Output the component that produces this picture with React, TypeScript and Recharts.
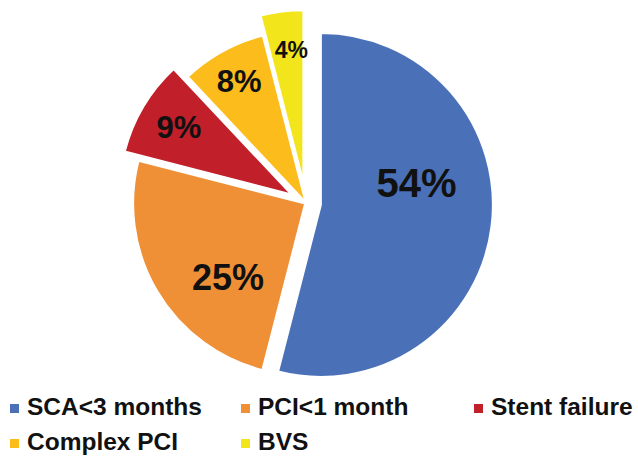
import { PieChart, Pie, Sector, Legend } from 'recharts'

const categories = ['SCA<3 months', 'PCI<1 month', 'Stent failure', 'Complex PCI', 'BVS']
const shares = [54, 25, 9, 8, 4]
const colors = ['#4A71B8', '#EF9036', '#C11F2A', '#FBBC1C', '#F3E51C']

// how far each slice is pulled away from the centre (px)
const explode = [15, 1, 17, 1, 21]
// where each % label sits: fraction of radius, angular nudge (deg), font size
const labelSpots = [
  { r: 0.57, turn: 20, size: 40 },
  { r: 0.62, turn: 13, size: 36 },
  { r: 0.76, turn: 0, size: 31 },
  { r: 0.8, turn: 0, size: 31 },
  { r: 0.77, turn: -2, size: 23 },
]

const data = categories.map((name, i) => ({ name, value: shares[i] }))

const RAD = Math.PI / 180

const renderSlice = (p: any) => {
  const i = p.index
  const x0 = p.cx + explode[i] * Math.cos(-p.midAngle * RAD)
  const y0 = p.cy + explode[i] * Math.sin(-p.midAngle * RAD)
  const spot = labelSpots[i]
  const a = (p.midAngle + spot.turn) * RAD
  const lx = x0 + p.outerRadius * spot.r * Math.cos(-a)
  const ly = y0 + p.outerRadius * spot.r * Math.sin(-a)
  return (
    <g key={`slice-${i}`}>
      <Sector
        cx={x0}
        cy={y0}
        innerRadius={0}
        outerRadius={p.outerRadius}
        startAngle={p.startAngle}
        endAngle={p.endAngle}
        fill={colors[i]}
        stroke="#ffffff"
        strokeWidth={2}
      />
      <text
        x={lx}
        y={ly}
        textAnchor="middle"
        dominantBaseline="central"
        fontSize={spot.size}
        fontWeight="bold"
        fontFamily="Liberation Sans, Arial, sans-serif"
        fill="#111111"
      >
        {shares[i]}%
      </text>
    </g>
  )
}

const LegendBox = () => (
  <div
    style={{
      display: 'grid',
      gridTemplateColumns: '231px 233px 1fr',
      paddingLeft: 10,
      fontFamily: 'Liberation Sans, Arial, sans-serif',
      fontWeight: 'bold',
      fontSize: 24.5,
      color: '#111111',
    }}
  >
    {categories.map((c, i) => (
      <div key={c} style={{ display: 'flex', alignItems: 'center', height: 35, whiteSpace: 'nowrap' }}>
        <span
          style={{
            width: 9,
            height: 9,
            background: colors[i],
            marginRight: 8,
            marginTop: 3,
            display: 'inline-block',
            flex: 'none',
          }}
        />
        {c}
      </div>
    ))}
  </div>
)

export default function App() {
  return (
    <>
      <style>{'body{margin:0;background:#fff}'}</style>
      <PieChart width={638} height={463} margin={{ top: 0, right: 0, bottom: 0, left: 0 }}>
        <Pie
          data={data}
          dataKey="value"
          nameKey="name"
          cx={306}
          cy={203}
          innerRadius={0}
          outerRadius={172}
          startAngle={90}
          endAngle={-270}
          fill="none"
          stroke="none"
          label={renderSlice}
          labelLine={false}
          isAnimationActive={false}
        />
        <Legend
          verticalAlign="bottom"
          content={() => <LegendBox />}
          wrapperStyle={{ top: 389, bottom: 'auto', left: 0, width: 638 }}
        />
      </PieChart>
    </>
  )
}
